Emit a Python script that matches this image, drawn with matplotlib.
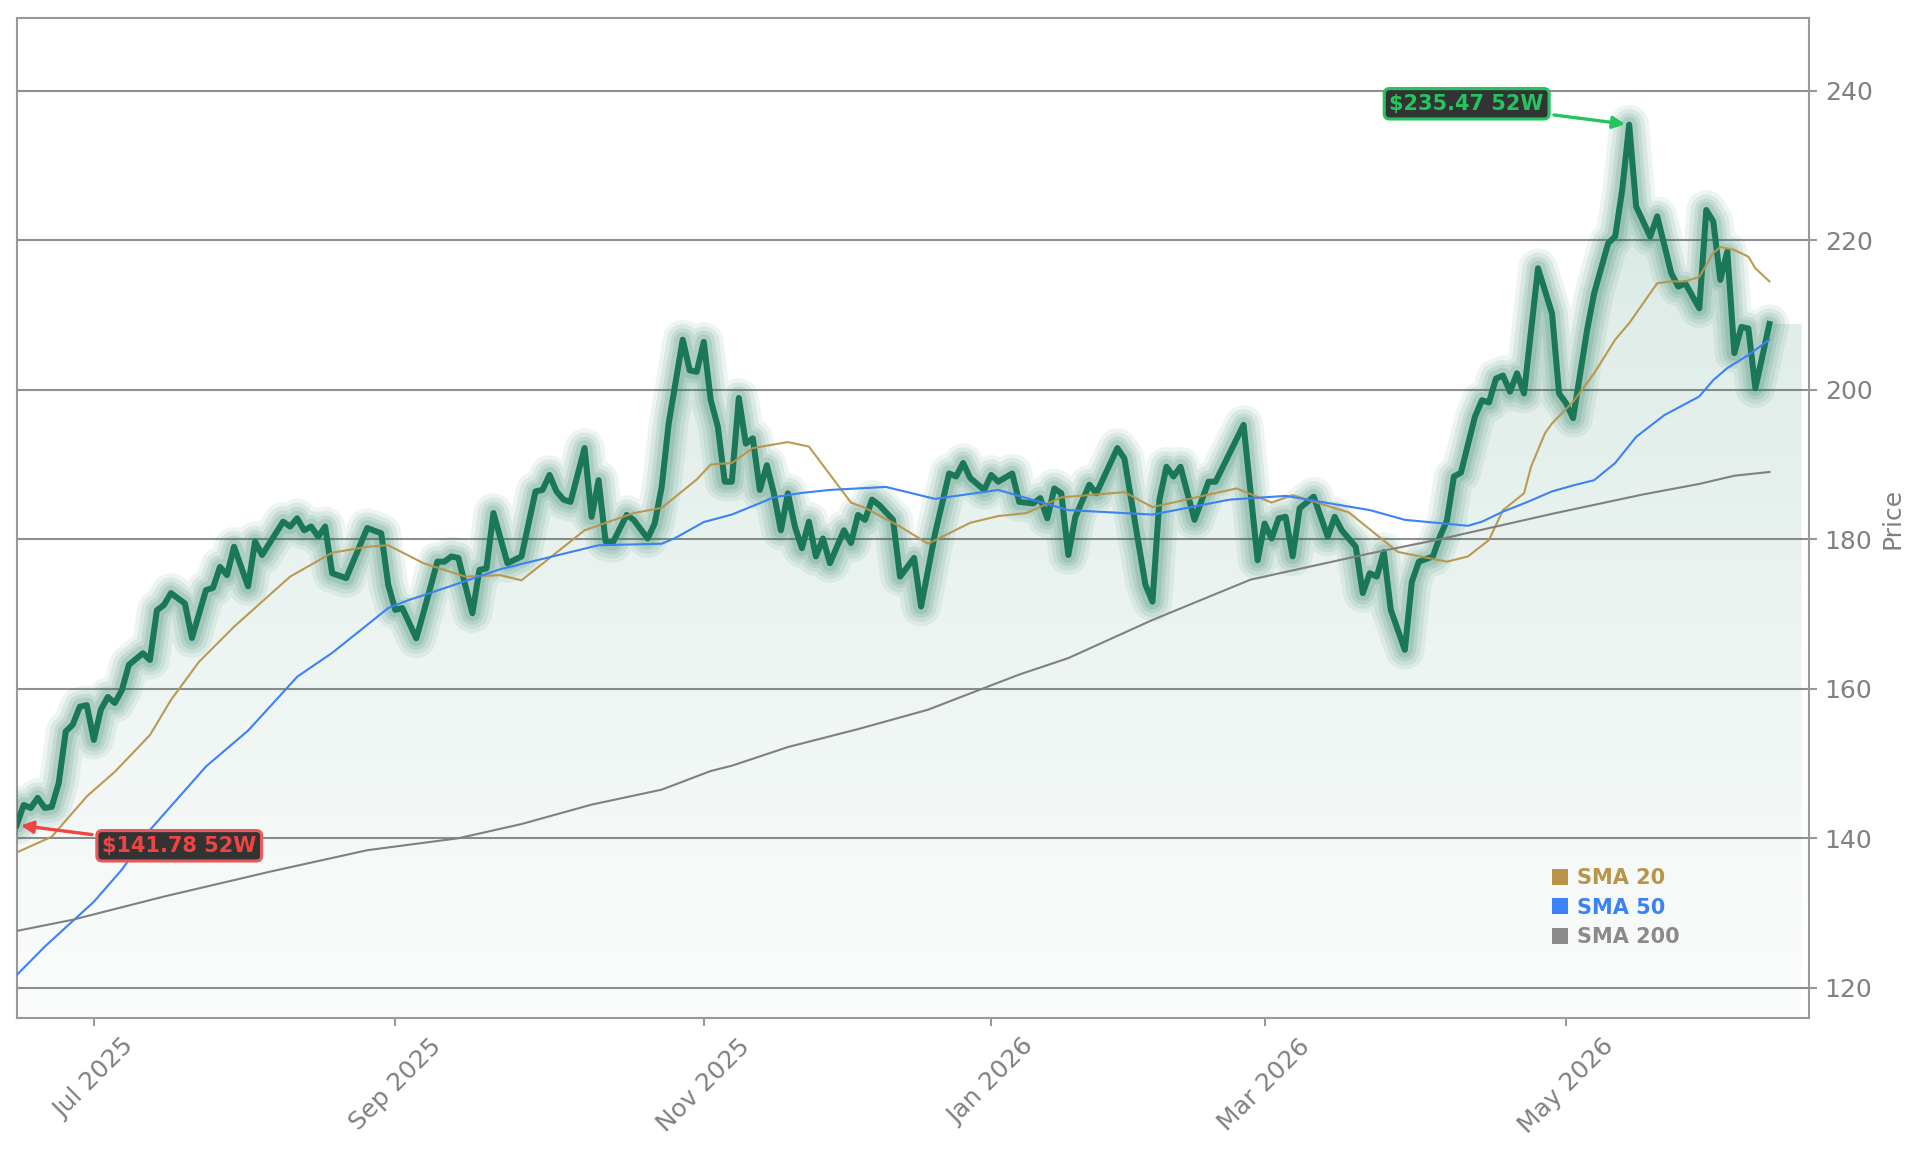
import numpy as np
import pandas as pd
import matplotlib
matplotlib.use("Agg")
import matplotlib.pyplot as plt
from matplotlib.lines import Line2D
from matplotlib.path import Path
from matplotlib.patches import PathPatch

# trading calendar (NYSE style, weekends and holidays removed)
holidays = ["2025-06-19", "2025-07-04", "2025-09-01", "2025-11-27", "2025-12-25",
            "2026-01-01", "2026-01-19", "2026-02-16", "2026-04-03", "2026-05-25"]
sessions = pd.bdate_range("2025-06-13", "2026-06-12", freq="C", holidays=holidays)

# closing prices (turning points)
price_dates = [
    "2025-06-13", "2025-06-16", "2025-06-17", "2025-06-18", "2025-06-20", "2025-06-23",
    "2025-06-24", "2025-06-25", "2025-06-26", "2025-06-27", "2025-06-30", "2025-07-01",
    "2025-07-02", "2025-07-03", "2025-07-07", "2025-07-08", "2025-07-09", "2025-07-11",
    "2025-07-14", "2025-07-15", "2025-07-16", "2025-07-17", "2025-07-21", "2025-07-22",
    "2025-07-24", "2025-07-25", "2025-07-28", "2025-07-29", "2025-07-30", "2025-08-01",
    "2025-08-04", "2025-08-05", "2025-08-08", "2025-08-11", "2025-08-12", "2025-08-13",
    "2025-08-14", "2025-08-15", "2025-08-18", "2025-08-19", "2025-08-21", "2025-08-26",
    "2025-08-28", "2025-08-29", "2025-09-02", "2025-09-03", "2025-09-05", "2025-09-08",
    "2025-09-10", "2025-09-11", "2025-09-12", "2025-09-15", "2025-09-17", "2025-09-18",
    "2025-09-19", "2025-09-22", "2025-09-24", "2025-09-26", "2025-09-30", "2025-10-01",
    "2025-10-02", "2025-10-03", "2025-10-06", "2025-10-07", "2025-10-09", "2025-10-10",
    "2025-10-13", "2025-10-14", "2025-10-15", "2025-10-17", "2025-10-20", "2025-10-22",
    "2025-10-23", "2025-10-24", "2025-10-27", "2025-10-29", "2025-10-30", "2025-10-31",
    "2025-11-03", "2025-11-04", "2025-11-05", "2025-11-06", "2025-11-07", "2025-11-10",
    "2025-11-11", "2025-11-12", "2025-11-13", "2025-11-14", "2025-11-17", "2025-11-18",
    "2025-11-19", "2025-11-20", "2025-11-21", "2025-11-24", "2025-11-25", "2025-11-26",
    "2025-11-28", "2025-12-02", "2025-12-03", "2025-12-04", "2025-12-05", "2025-12-08",
    "2025-12-09", "2025-12-11", "2025-12-12", "2025-12-16", "2025-12-17", "2025-12-19",
    "2025-12-23", "2025-12-24", "2025-12-26", "2025-12-29", "2025-12-31", "2026-01-02",
    "2026-01-05", "2026-01-07", "2026-01-08", "2026-01-12", "2026-01-13", "2026-01-14",
    "2026-01-15", "2026-01-16", "2026-01-20", "2026-01-21", "2026-01-23", "2026-01-26",
    "2026-01-29", "2026-01-30", "2026-02-04", "2026-02-05", "2026-02-06", "2026-02-09",
    "2026-02-10", "2026-02-11", "2026-02-13", "2026-02-18", "2026-02-19", "2026-02-25",
    "2026-02-27", "2026-03-02", "2026-03-03", "2026-03-04", "2026-03-05", "2026-03-06",
    "2026-03-09", "2026-03-11", "2026-03-13", "2026-03-16", "2026-03-17", "2026-03-19",
    "2026-03-20", "2026-03-23", "2026-03-24", "2026-03-25", "2026-03-26", "2026-03-30",
    "2026-03-31", "2026-04-01", "2026-04-06", "2026-04-07", "2026-04-08", "2026-04-09",
    "2026-04-10", "2026-04-14", "2026-04-15", "2026-04-16", "2026-04-17", "2026-04-20",
    "2026-04-21", "2026-04-22", "2026-04-23", "2026-04-27", "2026-04-29", "2026-04-30",
    "2026-05-01", "2026-05-04", "2026-05-06", "2026-05-07", "2026-05-11", "2026-05-12",
    "2026-05-13", "2026-05-14", "2026-05-15", "2026-05-19", "2026-05-20", "2026-05-22",
    "2026-05-26", "2026-05-27", "2026-05-29", "2026-06-01", "2026-06-02", "2026-06-03",
    "2026-06-04", "2026-06-05", "2026-06-08", "2026-06-09", "2026-06-10", "2026-06-12",
]
price_values = [
    141.78, 144.45, 144.05, 145.4, 144.05, 144.2,
    147.4, 154.3, 155.2, 157.6, 157.8, 153.15,
    157.2, 158.9, 158.1, 159.8, 163.2, 164.75,
    163.85, 170.5, 171.2, 172.8, 171.4, 166.8,
    173.2, 173.5, 176.3, 175.2, 179.0, 173.7,
    179.7, 177.9, 182.35, 181.7, 182.8, 181.2,
    181.7, 180.35, 181.7, 175.45, 174.8, 181.5,
    180.8, 173.9, 170.55, 170.8, 166.75, 170.1,
    177.0, 177.0, 177.7, 177.5, 170.1, 175.9,
    176.1, 183.5, 176.8, 177.7, 186.4, 186.6,
    188.6, 186.4, 185.3, 185.0, 192.2, 183.0,
    187.9, 179.7, 179.5, 183.25, 182.6, 180.1,
    182.1, 187.0, 195.5, 206.7, 202.6, 202.4,
    206.4, 198.6, 195.1, 187.7, 187.7, 198.9,
    192.8, 193.5, 186.6, 189.9, 186.15, 181.2,
    186.15, 181.7, 178.8, 182.35, 177.7, 180.1,
    176.8, 181.2, 179.5, 183.25, 182.6, 185.3,
    184.6, 182.6, 175.0, 177.5, 171.0, 180.8,
    188.8, 188.4, 190.2, 188.2, 186.6, 188.6,
    187.7, 188.8, 185.0, 184.8, 185.5, 182.8,
    186.8, 186.15, 177.9, 183.0, 187.3, 186.15,
    192.2, 190.8, 173.9, 171.65, 185.3, 189.7,
    188.4, 189.7, 182.6, 187.7, 187.7, 195.3,
    177.2, 182.1, 180.1, 182.8, 183.0, 177.7,
    184.15, 185.7, 180.35, 183.0, 181.2, 179.0,
    172.8, 175.45, 175.0, 178.3, 170.55, 165.2,
    174.3, 177.0, 177.7, 180.35, 182.5, 188.4,
    188.9, 196.4, 198.6, 198.3, 201.5, 201.9,
    199.75, 202.2, 199.5, 216.25, 210.2, 199.5,
    198.2, 196.2, 208.0, 212.9, 219.6, 220.5,
    226.7, 235.47, 224.5, 220.5, 223.2, 215.6,
    213.8, 214.25, 210.9, 224.05, 222.5, 214.7,
    218.5, 204.9, 208.4, 208.2, 200.2, 208.8,
]

sma20_dates = [
    "2025-06-13", "2025-06-23", "2025-06-30", "2025-07-07", "2025-07-14", "2025-07-17",
    "2025-07-23", "2025-07-30", "2025-08-11", "2025-08-19", "2025-08-26", "2025-08-29",
    "2025-09-08", "2025-09-16", "2025-09-23", "2025-09-26", "2025-10-09", "2025-10-20",
    "2025-10-24", "2025-10-31", "2025-11-04", "2025-11-07", "2025-11-12", "2025-11-19",
    "2025-11-24", "2025-12-03", "2025-12-05", "2025-12-12", "2025-12-18", "2025-12-29",
    "2026-01-05", "2026-01-09", "2026-01-16", "2026-01-30", "2026-02-05", "2026-02-24",
    "2026-03-03", "2026-03-06", "2026-03-18", "2026-03-27", "2026-04-08", "2026-04-13",
    "2026-04-16", "2026-04-20", "2026-04-23", "2026-04-24", "2026-04-28", "2026-04-29",
    "2026-05-04", "2026-05-07", "2026-05-12", "2026-05-14", "2026-05-20", "2026-05-22",
    "2026-05-27", "2026-05-29", "2026-06-02", "2026-06-03", "2026-06-05", "2026-06-09",
    "2026-06-10", "2026-06-12",
]
sma20_values = [
    138.1, 140.2, 145.6, 148.9, 153.8, 158.5,
    163.6, 168.3, 175.0, 178.2, 179.0, 179.2,
    176.8, 175.0, 175.2, 174.5, 181.2, 183.5,
    184.2, 188.0, 190.0, 190.2, 192.2, 193.0,
    192.4, 184.9, 184.2, 181.7, 179.4, 182.2,
    183.1, 183.5, 185.6, 186.3, 184.3, 186.8,
    184.9, 185.9, 183.6, 178.3, 177.0, 177.7,
    179.9, 183.9, 186.15, 189.7, 194.2, 195.5,
    198.4, 202.2, 206.7, 208.9, 214.25, 214.5,
    214.5, 215.1, 218.3, 219.1, 218.7, 217.8,
    216.25, 214.5,
]

sma50_dates = [
    "2025-06-13", "2025-06-20", "2025-07-01", "2025-07-08", "2025-07-14", "2025-07-24",
    "2025-08-01", "2025-08-07", "2025-08-12", "2025-08-19", "2025-08-29", "2025-09-04",
    "2025-09-08", "2025-09-23", "2025-10-02", "2025-10-13", "2025-10-24", "2025-10-28",
    "2025-11-03", "2025-11-07", "2025-11-17", "2025-11-21", "2025-11-28", "2025-12-10",
    "2025-12-19", "2026-01-05", "2026-01-20", "2026-02-05", "2026-02-23", "2026-03-05",
    "2026-03-23", "2026-03-30", "2026-04-13", "2026-04-15", "2026-04-20", "2026-04-23",
    "2026-04-29", "2026-05-04", "2026-05-07", "2026-05-12", "2026-05-15", "2026-05-21",
    "2026-05-29", "2026-06-02", "2026-06-04", "2026-06-09", "2026-06-12",
]
sma50_values = [
    121.7, 125.5, 131.5, 135.8, 141.1, 149.6,
    154.4, 158.5, 161.6, 164.8, 170.8, 171.9,
    172.5, 176.0, 177.6, 179.2, 179.4, 180.2,
    182.3, 183.3, 185.6, 186.2, 186.6, 187.0,
    185.4, 186.6, 183.9, 183.3, 185.3, 185.8,
    183.9, 182.6, 181.8, 182.35, 183.7, 184.8,
    186.4, 187.2, 187.9, 190.2, 193.7, 196.6,
    199.1, 201.3, 202.9, 204.65, 206.7,
]

sma200_dates = [
    "2025-06-13", "2025-06-26", "2025-07-16", "2025-08-06", "2025-08-26", "2025-09-15",
    "2025-09-26", "2025-10-10", "2025-10-24", "2025-11-04", "2025-11-07", "2025-11-19",
    "2025-12-04", "2025-12-18", "2025-12-31", "2026-01-08", "2026-01-20", "2026-02-05",
    "2026-02-26", "2026-03-23", "2026-04-07", "2026-04-17", "2026-04-29", "2026-05-18",
    "2026-05-29", "2026-06-05", "2026-06-12",
]
sma200_values = [
    127.6, 129.1, 132.2, 135.5, 138.4, 140.0,
    141.9, 144.5, 146.5, 149.0, 149.7, 152.2,
    154.6, 157.2, 160.1, 161.9, 164.1, 169.2,
    174.6, 178.1, 180.0, 181.7, 183.4, 186.0,
    187.4, 188.5, 189.0,
]

tick_months = ["2025-07", "2025-09", "2025-11", "2026-01", "2026-03", "2026-05"]

GREEN = "#1a7858"
GOLD = "#b8954a"
BLUE = "#3b82f6"
GREY = "#808080"
LABEL_GREY = "#808080"


def pos(dates):
    return sessions.get_indexer(pd.to_datetime(dates))


px = pos(price_dates)
py = np.array(price_values)
ymin, ymax = 115.9, 249.8
x_right = len(sessions) + 4.65
fill_end = len(sessions) + 3.6

fig = plt.figure(figsize=(1921 / 150, 1153 / 150), dpi=150)
ax = fig.add_axes([0.00869, 0.11674, 0.93301, 0.86808])
ax.set_xlim(0, x_right)
ax.set_ylim(ymin, ymax)

# horizontal grid only
ax.set_axisbelow(True)
ax.yaxis.grid(True, color="#8f8f8f", lw=1.0, zorder=0)
ax.xaxis.grid(False)

# gradient fill under the price, clipped to the area below the line
verts = [(px[0], ymin)] + list(zip(px, py)) + [(fill_end, py[-1]), (fill_end, ymin)]
clip = PathPatch(Path(verts), facecolor="none", edgecolor="none", transform=ax.transData)
ax.add_patch(clip)
rows = 256
alpha = np.linspace(0.17, 0.02, rows)
grad = np.zeros((rows, 2, 4))
grad[..., 0] = 26 / 255
grad[..., 1] = 122 / 255
grad[..., 2] = 90 / 255
grad[..., 3] = alpha[:, None]
img = ax.imshow(grad, extent=[0, fill_end, ymin, py.max()], aspect="auto",
                origin="upper", zorder=1, interpolation="bilinear")
img.set_clip_path(clip)

# glow around the price line
for lw, a in [(19, 0.08), (15, 0.09), (11, 0.11), (7.5, 0.13)]:
    ax.plot(px, py, color=GREEN, lw=lw, alpha=a, solid_joinstyle="round",
            solid_capstyle="round", zorder=3)
ax.plot(px, py, color=GREEN, lw=2.9, solid_joinstyle="round", zorder=4)

ax.plot(pos(sma20_dates), sma20_values, color=GOLD, lw=1.0, alpha=0.95, zorder=5)
ax.plot(pos(sma50_dates), sma50_values, color=BLUE, lw=1.0, zorder=5)
ax.plot(pos(sma200_dates), sma200_values, color=GREY, lw=1.0, zorder=5)

# 52 week high / low callouts
lo_i, hi_i = int(np.argmin(py)), int(np.argmax(py))
ax.annotate(f"${py[lo_i]:.2f} 52W", xy=(px[lo_i], py[lo_i]), xytext=(78, -10),
            textcoords="offset points", ha="center", va="center",
            fontsize=10, fontweight="bold", color="#ef4444", zorder=10,
            bbox=dict(boxstyle="round,pad=0.25", fc="#333333", ec="#e85a5a", lw=1.5),
            arrowprops=dict(arrowstyle="-|>", color="#ef4444", lw=1.6, mutation_scale=12))
ax.annotate(f"${py[hi_i]:.2f} 52W", xy=(px[hi_i], py[hi_i]), xytext=(-78, 10),
            textcoords="offset points", ha="center", va="center",
            fontsize=10, fontweight="bold", color="#22c55e", zorder=10,
            bbox=dict(boxstyle="round,pad=0.25", fc="#333333", ec="#22c55e", lw=1.5),
            arrowprops=dict(arrowstyle="-|>", color="#22c55e", lw=1.6, mutation_scale=12))

# axes styling
months = sessions.strftime("%Y-%m")
tick_pos = [int(np.argmax(months == m)) for m in tick_months]
ax.set_xticks(tick_pos)
ax.set_xticklabels([sessions[i].strftime("%b %Y") for i in tick_pos], rotation=45)
ax.set_yticks(np.arange(120, 241, 20))
ax.yaxis.tick_right()
ax.yaxis.set_label_position("right")
ax.set_ylabel("Price", color=LABEL_GREY, fontsize=12, labelpad=4)
ax.tick_params(axis="both", colors="#999999", labelcolor=LABEL_GREY, labelsize=12,
               length=4, width=1.0)
for sp in ax.spines.values():
    sp.set_color("#999999")
    sp.set_linewidth(1.0)

handles = [Line2D([], [], marker="s", ls="none", color=c, markersize=8, markeredgewidth=0)
           for c in (GOLD, BLUE, "#8a8a8a")]
ax.legend(handles, ["SMA 20", "SMA 50", "SMA 200"], loc="upper left",
          bbox_to_anchor=(0.8562, 0.150), frameon=False, borderpad=0, borderaxespad=0,
          handlelength=0.8, handletextpad=0.45, labelspacing=0.45,
          prop={"weight": "bold", "size": 10}, labelcolor=[GOLD, BLUE, "#8a8a8a"])

fig.savefig("out.png", dpi=150)
